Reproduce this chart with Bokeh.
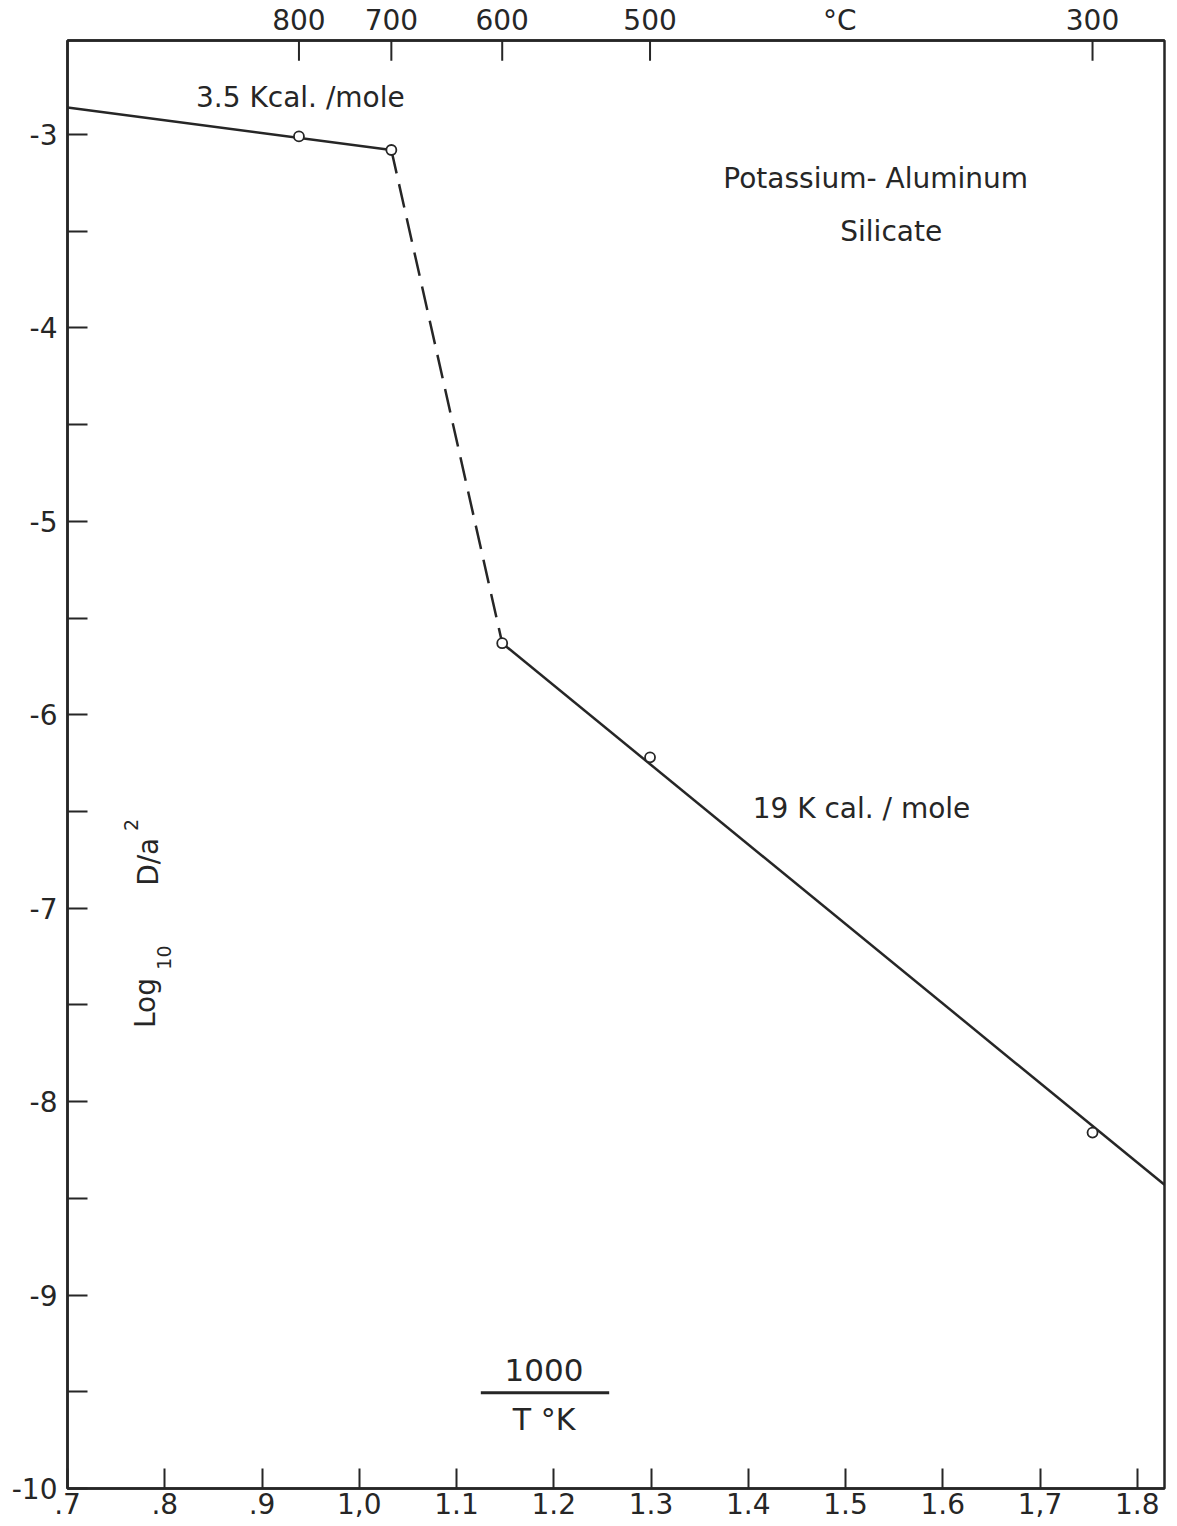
from bokeh.plotting import figure
from bokeh.models import (Range1d, LinearAxis, FixedTicker, Label, ColumnDataSource)
from bokeh.embed import file_html
from bokeh.resources import INLINE

# Measured diffusion parameters, log10(D/a^2) against 1000/T (K)
inv_temp = [0.938, 1.033, 1.147, 1.299, 1.754]
log_d_a2 = [-3.01, -3.08, -5.63, -6.22, -8.16]

# Temperatures of the runs in degrees C (top scale sits on the run positions)
celsius = [800, 700, 600, 500, 300]
celsius_unit_pos = 1.494

# Straight-line fits through the two regimes and the transition between them
high_t_x = [0.70, 1.033]
high_t_y = [-2.86, -3.08]
trans_x = [1.033, 1.147]
trans_y = [-3.08, -5.63]
low_t_x = [1.147, 1.828]
low_t_y = [-5.63, -8.43]

x_ticks = [0.7, 0.8, 0.9, 1.0, 1.1, 1.2, 1.3, 1.4, 1.5, 1.6, 1.7, 1.8]
x_tick_labels = [".7", ".8", ".9", "1,0", "1.1", "1.2", "1.3", "1.4", "1.5", "1.6", "1,7", "1.8"]
y_ticks = [-10, -9, -8, -7, -6, -5, -4, -3]

Y_TOP = -2.514
TICK_LEN = 0.105   # inward tick length of the top scale, in y data units

INK = "#262626"
FONT = "DejaVu Sans"
LW = 2.5

p = figure(width=1177, height=1526, output_backend="svg", toolbar_location=None,
           x_range=Range1d(0.70, 1.828), y_range=Range1d(-10.0, Y_TOP),
           min_border_left=67, min_border_right=13, min_border_top=40, min_border_bottom=38,
           background_fill_color="white", border_fill_color="white")
p.xgrid.visible = False
p.ygrid.visible = False
p.outline_line_color = INK
p.outline_line_width = LW

def style_axis(ax):
    ax.axis_line_color = INK
    ax.axis_line_width = LW
    ax.major_tick_line_color = INK
    ax.major_tick_line_width = 2
    ax.major_tick_in = 20
    ax.major_tick_out = 0
    ax.minor_tick_line_color = INK
    ax.minor_tick_line_width = 2
    ax.minor_tick_in = 20
    ax.minor_tick_out = 0
    ax.major_label_text_font = FONT
    ax.major_label_text_font_size = "28px"
    ax.major_label_text_color = INK
    ax.major_label_standoff = 4

xa = p.xaxis[0]
xa.ticker = FixedTicker(ticks=x_ticks)
xa.major_label_overrides = {t: s for t, s in zip(x_ticks, x_tick_labels)}
style_axis(xa)
xa.minor_tick_line_color = None

ya = p.yaxis[0]
ya.ticker = FixedTicker(ticks=y_ticks, minor_ticks=[v + 0.5 for v in y_ticks[:-1]])
ya.major_label_overrides = {t: "%d" % t for t in y_ticks}
style_axis(ya)
ya.major_label_standoff = 10

# Top scale in degrees C; the unit sits in the label row without a tick mark
top_ticks = inv_temp + [celsius_unit_pos]
top_labels = {x: str(c) for x, c in zip(inv_temp, celsius)}
top_labels[celsius_unit_pos] = "°C"
top = LinearAxis(ticker=FixedTicker(ticks=top_ticks), major_label_overrides=top_labels)
style_axis(top)
top.major_tick_line_color = None
top.major_label_standoff = 4
p.add_layout(top, "above")
p.segment(x0=inv_temp, y0=[Y_TOP] * len(inv_temp), x1=inv_temp,
          y1=[Y_TOP - TICK_LEN] * len(inv_temp), line_color=INK, line_width=2)

# Fitted lines
p.line(high_t_x, high_t_y, line_color=INK, line_width=LW)
p.line(trans_x, trans_y, line_color=INK, line_width=LW, line_dash="24 11")
p.line(low_t_x, low_t_y, line_color=INK, line_width=LW)

# Data points
src = ColumnDataSource(dict(x=inv_temp, y=log_d_a2))
p.scatter("x", "y", source=src, marker="circle", size=10, fill_color="white",
          line_color=INK, line_width=1.8)

def note(x, y, text, size="28px", angle=0.0, align="center", baseline="middle"):
    p.add_layout(Label(x=x, y=y, text=text, text_font=FONT, text_font_size=size,
                       text_color=INK, text_align=align, text_baseline=baseline,
                       angle=angle))

note(0.944, -2.81, "3.5  Kcal. /mole")
note(1.531, -3.23, "Potassium- Aluminum")
note(1.547, -3.50, "Silicate")
note(1.521, -6.485, "19  K cal. / mole")

# Axis titles drawn inside the frame
VERT = 1.5708
note(0.7807, -7.49, "Log", angle=VERT)
note(0.7990, -7.255, "10", size="19px", angle=VERT)
note(0.7828, -6.76, "D/a", angle=VERT)
note(0.7650, -6.57, "2", size="19px", angle=VERT)
note(1.19, -9.385, "1000", size="31px")
note(1.19, -9.645, "T °K", size="30px")
p.line([1.125, 1.257], [-9.505, -9.505], line_color=INK, line_width=3)

open("out.html", "w").write(file_html(p, INLINE))
